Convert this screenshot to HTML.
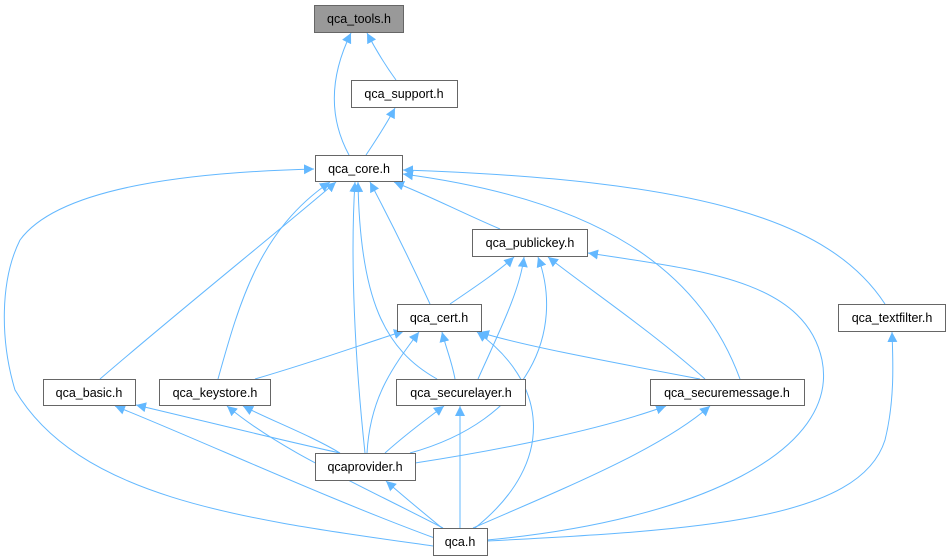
<!DOCTYPE html>
<html><head><meta charset="utf-8"><style>
html,body{margin:0;padding:0;background:#fff;}
svg{display:block;}
text{font-family:"Liberation Sans",Arial,sans-serif;font-size:12.5px;fill:#000;}
</style></head><body>
<svg width="950" height="560" viewBox="0 0 950 560" xmlns="http://www.w3.org/2000/svg">
<defs>
<marker id="a" viewBox="0 0 10 10" refX="10" refY="5" markerWidth="10" markerHeight="10" markerUnits="userSpaceOnUse" orient="auto">
<path d="M0,0 L10,5 L0,10 z" fill="#63b8ff"/>
</marker>
</defs>
<g fill="none" stroke="#63b8ff" stroke-width="1" marker-end="url(#a)">
<path d="M349,155 C330,120 328,80 351,33"/>
<path d="M396,80 C385,65 376,50 367,33"/>
<path d="M366,155 C376,140 386,125 395,108"/>
<path d="M433,546 C250,520 80,500 15,390 C0,340 0,280 20,240 C60,185 200,172 314,169"/>
<path d="M100,379 C180,310 280,230 336,182"/>
<path d="M218,379 C240,300 260,230 330,182"/>
<path d="M365,453 C355,360 350,260 355,182"/>
<path d="M437,379 C385,350 360,300 358,182"/>
<path d="M430,304 C410,260 390,220 370,182"/>
<path d="M500,229 C460,212 430,196 394,182"/>
<path d="M740,379 C700,270 600,200 403,174"/>
<path d="M885,304 C830,220 700,180 403,170"/>
<path d="M450,304 C478,285 500,270 514,257"/>
<path d="M478,379 C500,330 520,290 524,257"/>
<path d="M410,453 C530,420 565,330 538,257"/>
<path d="M705,379 C650,330 590,290 548,257"/>
<path d="M487,540 C700,520 840,450 822,360 C805,280 700,270 588,253"/>
<path d="M255,379 C320,360 360,345 404,331"/>
<path d="M367,453 C370,400 390,370 419,332"/>
<path d="M455,379 C452,362 446,348 442,332"/>
<path d="M700,379 C600,360 520,345 479,332"/>
<path d="M475,528 C560,460 545,380 477,332"/>
<path d="M340,453 C280,440 200,420 136,405"/>
<path d="M340,453 C310,435 270,420 243,406"/>
<path d="M385,453 C405,435 425,420 444,406"/>
<path d="M415,463 C500,450 600,430 666,406"/>
<path d="M440,540 C330,500 200,440 115,406"/>
<path d="M443,528 C350,480 280,450 227,406"/>
<path d="M442,528 C420,510 402,495 386,481"/>
<path d="M460,528 L460,406"/>
<path d="M473,528 C560,490 660,450 710,406"/>
<path d="M487,541 C700,530 860,520 885,440 C895,400 893,360 892,332"/>
</g>
<g stroke="#666" stroke-width="1">
<rect x="314.5" y="5.5" width="89" height="27" fill="#999"/>
<rect x="351.5" y="80.5" width="106" height="27" fill="#fff"/>
<rect x="315.5" y="155.5" width="87" height="26" fill="#fff"/>
<rect x="472.5" y="229.5" width="115" height="27" fill="#fff"/>
<rect x="397.5" y="304.5" width="84" height="27" fill="#fff"/>
<rect x="838.5" y="304.5" width="107" height="27" fill="#fff"/>
<rect x="43.5" y="379.5" width="92" height="26" fill="#fff"/>
<rect x="159.5" y="379.5" width="111" height="26" fill="#fff"/>
<rect x="396.5" y="379.5" width="129" height="26" fill="#fff"/>
<rect x="650.5" y="379.5" width="154" height="26" fill="#fff"/>
<rect x="315.5" y="453.5" width="100" height="27" fill="#fff"/>
<rect x="433.5" y="528.5" width="54" height="27" fill="#fff"/>
</g>
<g text-anchor="middle">
<text x="359" y="23">qca_tools.h</text>
<text x="404" y="98">qca_support.h</text>
<text x="359" y="173">qca_core.h</text>
<text x="530" y="247">qca_publickey.h</text>
<text x="439" y="322">qca_cert.h</text>
<text x="892" y="322">qca_textfilter.h</text>
<text x="89" y="397">qca_basic.h</text>
<text x="215" y="397">qca_keystore.h</text>
<text x="461" y="397">qca_securelayer.h</text>
<text x="727" y="397">qca_securemessage.h</text>
<text x="365" y="471">qcaprovider.h</text>
<text x="460" y="546">qca.h</text>
</g>
</svg>
</body></html>
